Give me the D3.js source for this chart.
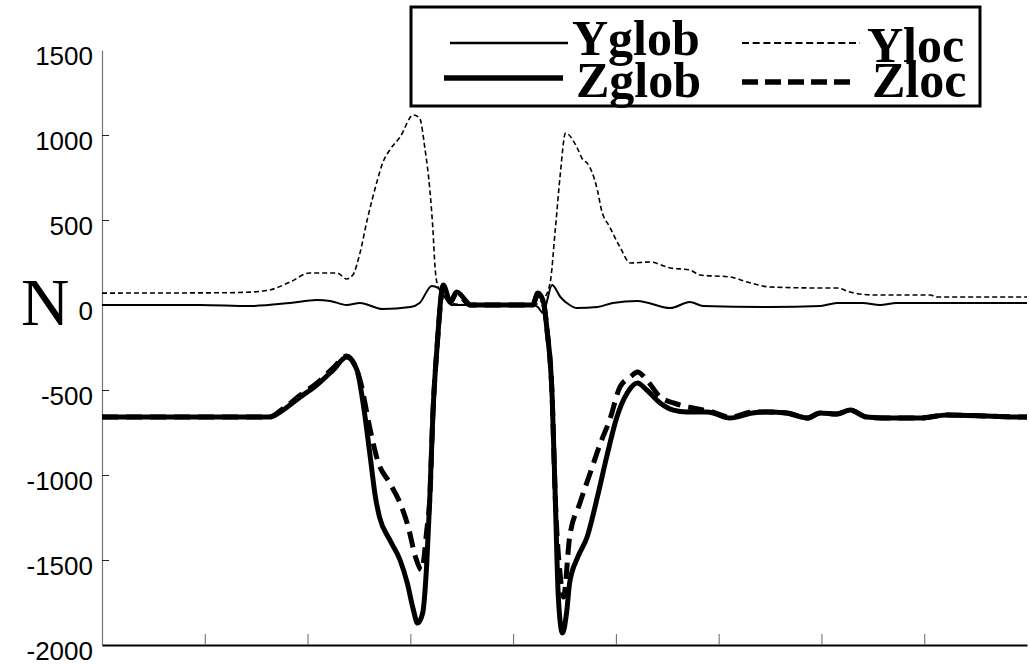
<!DOCTYPE html>
<html><head><meta charset="utf-8">
<script src="https://cdn.jsdelivr.net/npm/d3@7"></script>
<style>html,body{margin:0;padding:0;background:#fff;}svg{display:block;}</style>
</head><body>
<svg id="c" width="1029" height="665"></svg>
<script>
// ---- data (x in axis units 0..9, values in N) ----
const yTickValues = [-2000, -1500, -1000, -500, 0, 500, 1000, 1500];
const xTickValues = [1, 2, 3, 4, 5, 6, 7, 8];
const seriesNames = ["Yglob", "Yloc", "Zglob", "Zloc"];

const ylocX = [0,1.2,1.44,1.63,1.83,2.02,2.29,2.38,2.44,2.51,2.58,2.68,2.73,2.80,2.90,3.03,3.09,3.14,3.19,3.22,3.24,3.26,3.32,3.40,3.58,4.19,4.30,4.36,4.41,4.46,4.51,4.62,4.68,4.72,4.82,4.86,4.94,5.04,5.14,5.33,5.53,5.72,5.82,6.11,6.28,6.50,6.99,7.15,7.28,7.50,8.06,8.12,9.0];
const ylocV = [70,72,76,88,135,188,188,153,176,306,500,735,835,912,988,1118,1100,929,676,441,224,129,60,10,0,0,40,129,441,776,1012,929,853,835,676,559,459,341,247,253,218,206,176,165,135,106,100,100,76,59,59,47,47];

const yglobX = [0,0.95,1.44,1.83,2.09,2.22,2.38,2.51,2.73,3.00,3.09,3.21,3.27,3.32,3.40,3.58,4.19,4.24,4.29,4.38,4.46,4.55,4.62,4.82,4.97,5.21,5.53,5.72,5.85,6.50,6.99,7.15,7.40,7.57,7.73,9.0];
const yglobV = [0,0,-6,12,29,24,0,12,-24,-12,12,112,100,60,0,0,0,-12,-47,118,47,0,-18,-12,12,24,-18,18,-6,-12,-6,12,12,0,12,12];

const zglobX = [0,1.63,1.76,1.93,2.09,2.25,2.38,2.48,2.54,2.61,2.66,2.70,2.80,2.90,2.97,3.03,3.07,3.12,3.16,3.19,3.22,3.26,3.32,3.39,3.45,3.55,3.58,4.19,4.24,4.29,4.33,4.38,4.41,4.44,4.48,4.52,4.55,4.63,4.72,4.82,4.91,5.01,5.11,5.21,5.30,5.43,5.56,5.69,5.89,6.11,6.33,6.47,6.66,6.86,6.99,7.15,7.28,7.44,7.64,7.96,8.22,8.61,8.93,9.0];
const zglobV = [-659,-659,-618,-541,-471,-382,-306,-382,-576,-894,-1129,-1247,-1382,-1500,-1635,-1794,-1871,-1812,-1518,-1129,-635,-247,118,18,76,18,0,0,70,29,-147,-541,-1129,-1718,-1929,-1812,-1635,-1482,-1365,-1129,-894,-659,-518,-459,-500,-576,-618,-629,-629,-665,-635,-629,-635,-665,-635,-641,-618,-659,-665,-665,-647,-653,-659,-659];

const zlocX = [0,1.63,1.76,1.93,2.09,2.25,2.38,2.51,2.61,2.68,2.80,2.90,2.98,3.05,3.11,3.16,3.19,3.22,3.26,3.32,3.39,3.45,3.58,4.19,4.24,4.29,4.33,4.38,4.41,4.46,4.49,4.55,4.65,4.75,4.85,4.94,5.04,5.14,5.21,5.30,5.43,5.56,5.75,5.94,6.11,6.33,6.47,6.66,6.86,6.99,7.15,7.28,7.44,7.64,7.96,8.22,8.61,8.93,9.0];
const zlocV = [-659,-659,-610,-530,-460,-370,-300,-441,-735,-912,-1047,-1165,-1306,-1482,-1559,-1324,-1129,-635,-247,100,18,70,0,0,60,29,-147,-541,-1129,-1600,-1718,-1365,-1165,-988,-812,-676,-482,-424,-394,-441,-541,-576,-606,-629,-660,-630,-629,-635,-665,-635,-641,-618,-659,-665,-665,-647,-653,-659,-659];

// ---- drawing ----
const svg = d3.select("#c");
const x = d3.scaleLinear().domain([0, 9]).range([102, 1027]);
const y = d3.scaleLinear().domain([-2000, 1500]).range([645, 50]);

const line = d3.line().x(d => x(d[0])).y(d => y(d[1])).curve(d3.curveMonotoneX);
const zip = (a, b) => a.map((v, i) => [v, b[i]]);

// y axis
const yAxis = d3.axisLeft(y).tickValues(yTickValues).tickSizeInner(-7).tickSizeOuter(0).tickPadding(9).tickFormat(d => String(d));
const gy = svg.append("g").attr("transform", "translate(102,0)").call(yAxis);
gy.select(".domain").attr("stroke", "#777").attr("stroke-width", 1.2);
gy.selectAll(".tick line").attr("stroke", "#222").attr("stroke-width", 1)
  .attr("display", d => (d === 1500 || d === -2000 || d === 0) ? "none" : null);
gy.selectAll(".tick text")
  .attr("font-family", "'Liberation Sans', Arial, sans-serif")
  .attr("font-size", 26).attr("fill", "#000").attr("dy", "0.35em")
  .attr("transform", "translate(0,5)");

// x axis
const xAxis = d3.axisBottom(x).tickValues(xTickValues).tickSizeInner(-11).tickSizeOuter(0).tickFormat("");
const gx = svg.append("g").attr("transform", "translate(0,645)").call(xAxis);
gx.select(".domain").attr("stroke", "#000").attr("stroke-width", 2);
gx.selectAll(".tick line").attr("stroke", "#666").attr("stroke-width", 1);

// series
svg.append("path").datum(zip(ylocX, ylocV)).attr("d", line)
  .attr("fill", "none").attr("stroke", "#000").attr("stroke-width", 1.6).attr("stroke-dasharray", "5,3");
svg.append("path").datum(zip(yglobX, yglobV)).attr("d", line)
  .attr("fill", "none").attr("stroke", "#000").attr("stroke-width", 2);
svg.append("path").datum(zip(zglobX, zglobV)).attr("d", line)
  .attr("fill", "none").attr("stroke", "#000").attr("stroke-width", 5).attr("stroke-linejoin", "round");
svg.append("path").datum(zip(zlocX, zlocV)).attr("d", line)
  .attr("fill", "none").attr("stroke", "#000").attr("stroke-width", 5).attr("stroke-dasharray", "16,8");

// N label
svg.append("text").attr("x", 21).attr("y", 325)
  .attr("font-family", "'Liberation Serif', 'Times New Roman', serif").attr("font-size", 67).text("N");

// legend
const lg = svg.append("g");
lg.append("rect").attr("x", 411).attr("y", 7).attr("width", 569).attr("height", 99)
  .attr("fill", "#fff").attr("stroke", "#000").attr("stroke-width", 3);
const legendItems = [
  {name: seriesNames[0], x1: 450, x2: 568, ly: 43, w: 2.6, dash: null, tx: 572, ty: 55},
  {name: seriesNames[2], x1: 444, x2: 563, ly: 78, w: 5.5, dash: null, tx: 576, ty: 97},
  {name: seriesNames[1], x1: 742, x2: 860, ly: 43, w: 2, dash: "7,3.7", tx: 867, ty: 62},
  {name: seriesNames[3], x1: 742, x2: 857, ly: 82, w: 5.5, dash: "16,7", tx: 872, ty: 97}
];
legendItems.forEach(it => {
  lg.append("line").attr("x1", it.x1).attr("x2", it.x2).attr("y1", it.ly).attr("y2", it.ly)
    .attr("stroke", "#000").attr("stroke-width", it.w).attr("stroke-dasharray", it.dash);
  lg.append("text").attr("x", it.tx).attr("y", it.ty)
    .attr("font-family", "'Liberation Serif', 'Times New Roman', serif").attr("font-weight", "bold")
    .attr("font-size", 50).text(it.name);
});
</script>
</body></html>
